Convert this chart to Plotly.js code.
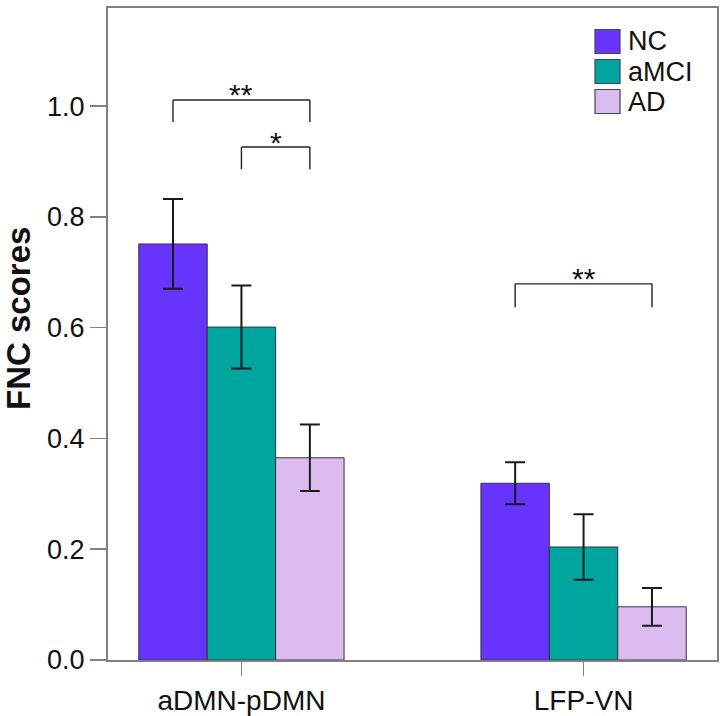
<!DOCTYPE html>
<html>
<head>
<meta charset="utf-8">
<script src="https://cdn.plot.ly/plotly-3.0.1.min.js"></script>
<style>html,body{margin:0;padding:0;background:#fff;}#chart{width:726px;height:716px;}</style>
</head>
<body>
<div id="chart"></div>
<script>
var categories = ["aDMN-pDMN", "LFP-VN"];
var groups = ["NC", "aMCI", "AD"];
var ncValues = [0.751, 0.319];
var ncErrors = [0.081, 0.038];
var amciValues = [0.601, 0.204];
var amciErrors = [0.075, 0.059];
var adValues = [0.365, 0.096];
var adErrors = [0.060, 0.034];
var colors = ["#6633ff", "#00a59e", "#dcbcf0"];
var yTickVals = [0, 0.2, 0.4, 0.6, 0.8, 1.0];
var yTickText = ["0.0", "0.2", "0.4", "0.6", "0.8", "1.0"];

var values = [ncValues, amciValues, adValues];
var errors = [ncErrors, amciErrors, adErrors];

var FONT = "Liberation Sans, Arial, sans-serif";

var traces = groups.map(function (g, i) {
  return {
    type: "bar",
    name: g,
    x: categories,
    y: values[i],
    showlegend: false,
    marker: { color: colors[i], line: { color: "#333344", width: 1 } },
    error_y: { type: "data", array: errors[i], visible: true, color: "#1a1a1a", thickness: 2, width: 10 }
  };
});

// significance brackets: [x0, x1, y level, y foot, label]
var brackets = [
  [-0.2, 0.2, 1.011, 0.971, "**"],
  [0.0, 0.2, 0.926, 0.886, "*"],
  [0.8, 1.2, 0.679, 0.637, "**"]
];
var shapes = [];
var annotations = [];
brackets.forEach(function (b) {
  var ln = { color: "#222", width: 1.4 };
  shapes.push({ type: "line", xref: "x", yref: "y", x0: b[0], x1: b[1], y0: b[2], y1: b[2], line: ln });
  shapes.push({ type: "line", xref: "x", yref: "y", x0: b[0], x1: b[0], y0: b[3], y1: b[2], line: ln });
  shapes.push({ type: "line", xref: "x", yref: "y", x0: b[1], x1: b[1], y0: b[3], y1: b[2], line: ln });
  annotations.push({ xref: "x", yref: "y", x: (b[0] + b[1]) / 2, y: b[2], text: b[4], showarrow: false,
    yanchor: "middle", yshift: 5, font: { family: FONT, size: 30, color: "#111" } });
});

// custom legend (large swatches), positioned in paper coords
var M = { l: 108, r: 9, t: 8, b: 56 };
var W = 726, H = 716;
var pw = W - M.l - M.r, ph = H - M.t - M.b;
function px(x) { return (x - M.l) / pw; }
function py(y) { return (H - M.b - y) / ph; }
var legRows = [41.5, 71.5, 101.5];
groups.forEach(function (g, i) {
  var c = legRows[i];
  shapes.push({ type: "rect", xref: "paper", yref: "paper", x0: px(595), x1: px(620), y0: py(c + 12), y1: py(c - 12),
    fillcolor: colors[i], line: { color: "#444455", width: 1.2 } });
  annotations.push({ xref: "paper", yref: "paper", x: px(626), y: py(c), text: g, showarrow: false,
    xanchor: "left", yanchor: "middle", font: { family: FONT, size: 27, color: "#111" } });
});

annotations.push({ xref: "paper", yref: "paper", x: px(18), y: py(318), text: "<b>FNC scores</b>", textangle: -90,
  showarrow: false, xanchor: "center", yanchor: "middle", font: { family: FONT, size: 33, color: "#111" } });

var layout = {
  width: W, height: H,
  margin: M,
  paper_bgcolor: "#fff", plot_bgcolor: "#fff",
  barmode: "group", bargap: 0.4, bargroupgap: 0,
  font: { family: FONT, color: "#111" },
  showlegend: false,
  xaxis: {
    range: [-0.39, 1.39],
    showline: true, linecolor: "#808080", linewidth: 2, mirror: true,
    ticks: "outside", ticklen: 14, tickcolor: "#808080", tickwidth: 1.5,
    tickfont: { size: 28, color: "#111" }, showgrid: false, zeroline: false
  },
  yaxis: {
    range: [0, 1.177],
    tickvals: yTickVals,
    ticktext: yTickText,
    showline: true, linecolor: "#808080", linewidth: 2, mirror: true,
    ticks: "outside", ticklen: 16, tickcolor: "#808080", tickwidth: 1.5,
    tickfont: { size: 27, color: "#111" }, showgrid: false, zeroline: false
  },
  shapes: shapes,
  annotations: annotations
};

Plotly.newPlot("chart", traces, layout, { displayModeBar: false, staticPlot: true });
</script>
</body>
</html>
